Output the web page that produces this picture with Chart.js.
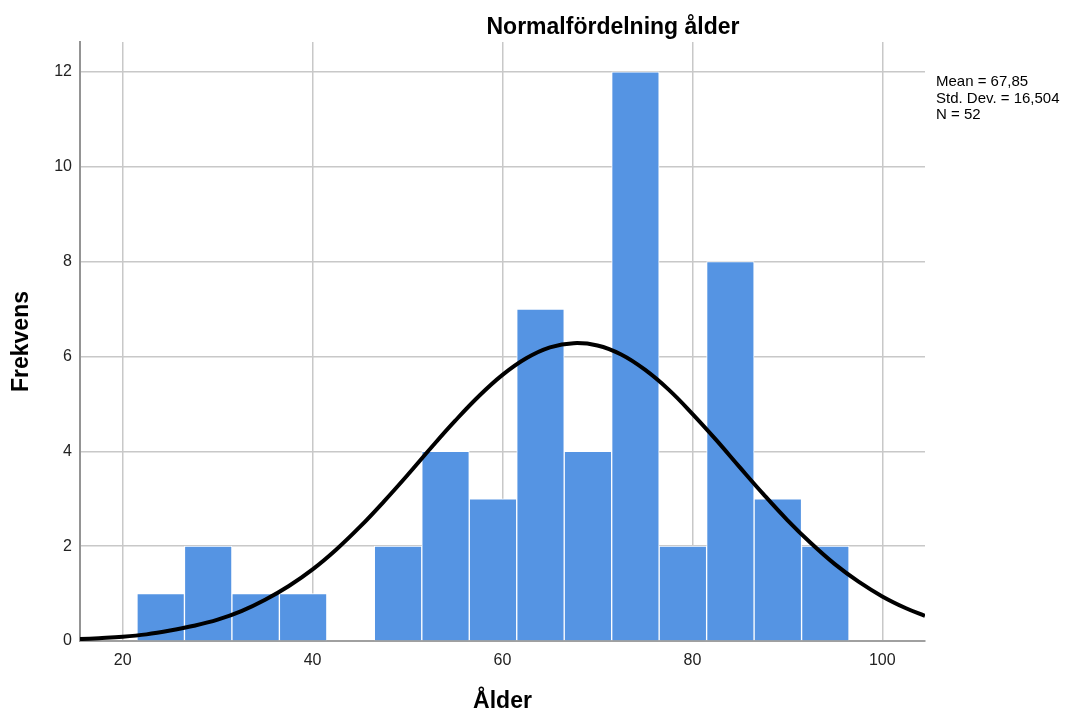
<!DOCTYPE html>
<html>
<head>
<meta charset="utf-8">
<script src="https://cdn.jsdelivr.net/npm/chart.js@4/dist/chart.umd.min.js"></script>
<style>
	html, body { margin: 0; padding: 0; background: #fff; }
	#wrap { width: 1070px; height: 713px; }
</style>
</head>
<body>
<div id="wrap"><canvas id="chart"></canvas></div>
<script>
const chartTitle = "Normalfördelning ålder";
const xTitle = "Ålder";
const yTitle = "Frekvens";
const statLines = ["Mean = 67,85", "Std. Dev. = 16,504", "N = 52"];

// histogram bins (width 5), centre value and count
const binCenters = [24, 29, 34, 39, 44, 49, 54, 59, 64, 69, 74, 79, 84, 89, 94];
const binCounts = [1, 2, 1, 1, 0, 2, 4, 3, 7, 4, 12, 2, 8, 3, 2];

// normal curve
const curveX = [15.5, 17.5, 20, 22.5, 25, 27.5, 30, 32.5, 35, 37.5, 40, 42.5, 45, 47.5, 50,
	52.5, 55, 57.5, 60, 62.5, 65, 67.5, 70, 72.5, 75, 77.5, 80, 82.5, 85, 87.5, 90,
	92.5, 95, 97.5, 100, 102.5, 104.5];
const curveY = [0.04, 0.06, 0.09, 0.14, 0.22, 0.32, 0.45, 0.63, 0.87, 1.16, 1.51, 1.93, 2.41, 2.94, 3.5,
	4.08, 4.64, 5.16, 5.61, 5.96, 6.19, 6.28, 6.23, 6.04, 5.72, 5.3, 4.79, 4.24, 3.66, 3.09, 2.55,
	2.06, 1.62, 1.25, 0.94, 0.69, 0.53];

const xTicks = [20, 40, 60, 80, 100];
const yTicks = [0, 2, 4, 6, 8, 10, 12];

const FONT = "'Liberation Sans', Arial, sans-serif";

const overlayText = {
	id: "overlayText",
	afterDraw(chart) {
		const ctx = chart.ctx;
		ctx.save();
		ctx.fillStyle = "#000";
		ctx.textAlign = "center";
		ctx.textBaseline = "alphabetic";
		ctx.font = "bold 23px " + FONT;
		ctx.fillText(chartTitle, 613, 34);

		ctx.textAlign = "left";
		ctx.font = "15px " + FONT;
		statLines.forEach((line, i) => {
			ctx.fillText(line, 936, 86 + i * 16.5);
		});
		ctx.restore();
	},
};

const ctx = document.getElementById("chart").getContext("2d");

new Chart(ctx, {
	type: "bar",
	data: {
		datasets: [
			{
				type: "line",
				data: curveX.map((x, i) => ({ x, y: curveY[i] })),
				borderColor: "#000",
				borderWidth: 4,
				pointRadius: 0,
				tension: 0.4,
				fill: false,
				order: 0,
			},
			{
				type: "bar",
				data: binCenters.map((x, i) => ({ x, y: binCounts[i] })),
				backgroundColor: "#5594e3",
				borderColor: "#ffffff",
				borderWidth: 1,
				categoryPercentage: 1,
				barPercentage: 1,
				order: 1,
			},
		],
	},
	options: {
		responsive: true,
		maintainAspectRatio: false,
		animation: false,
		layout: { padding: { top: 42, right: 145, left: 0, bottom: 0 } },
		plugins: {
			legend: { display: false },
			tooltip: { enabled: false },
		},
		scales: {
			x: {
				type: "linear",
				offset: false,
				min: 15.5,
				max: 104.5,
				afterBuildTicks: scale => { scale.ticks = xTicks.map(v => ({ value: v })); },
				afterFit: scale => { scale.height = 72; },
				ticks: {
					font: { family: FONT, size: 16 },
					color: "#222",
					padding: 10,
					autoSkip: false,
					maxRotation: 0,
				},
				grid: { color: "#c8c8c8", lineWidth: 1.5, drawTicks: false, offset: false },
				border: { color: "#a0a0a0", width: 2 },
				title: {
					display: true,
					text: xTitle,
					color: "#000",
					font: { family: FONT, size: 23, weight: "bold", lineHeight: 1 },
					padding: { top: 0, bottom: 0 },
				},
			},
			y: {
				min: 0,
				max: 12.63,
				afterBuildTicks: scale => { scale.ticks = yTicks.map(v => ({ value: v })); },
				afterFit: scale => { scale.width = 80; },
				ticks: {
					font: { family: FONT, size: 16 },
					color: "#222",
					padding: 8,
				},
				grid: { color: "#c8c8c8", lineWidth: 1.5, drawTicks: false },
				border: { color: "#949494", width: 2 },
				title: {
					display: true,
					text: yTitle,
					color: "#000",
					font: { family: FONT, size: 23, weight: "bold", lineHeight: 1 },
					padding: { top: 10.5, bottom: 0 },
				},
			},
		},
	},
	plugins: [overlayText],
});
</script>
</body>
</html>
